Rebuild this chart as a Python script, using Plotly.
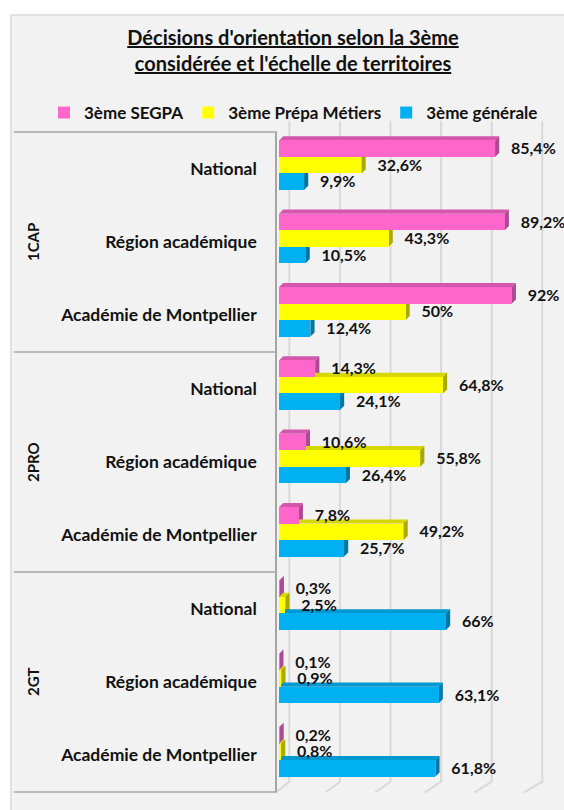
import plotly.graph_objects as go

# ---------------- data ----------------
groups = ["1CAP", "2PRO", "2GT"]
territories = ["National", "Région académique", "Académie de Montpellier"]
series_names = ["3ème SEGPA", "3ème Prépa Métiers", "3ème générale"]
segpa = [85.4, 89.2, 92, 14.3, 10.6, 7.8, 0.3, 0.1, 0.2]
prepa = [32.6, 43.3, 50, 64.8, 55.8, 49.2, 2.5, 0.9, 0.8]
generale = [9.9, 10.5, 12.4, 24.1, 26.4, 25.7, 66, 63.1, 61.8]
grid_values = [0, 20, 40, 60, 80, 100]

# ---------------- style ----------------
front_colors = ["#ff66cc", "#ffff00", "#00b0f0"]
top_colors = ["#d457ad", "#d6d600", "#0098d0"]
side_colors = ["#ae4894", "#a9a900", "#0078a5"]
FONT = "Lato"
TXT = "#111111"

W, H = 564, 810
L, R, T, B = 277, 4, 132, 18
plot_w = W - L - R
plot_h = H - T - B
PX_PER_UNIT = 2.53
X0_PX = 279
xr0 = -(X0_PX - L) / PX_PER_UNIT
xr1 = xr0 + plot_w / PX_PER_UNIT

n_rows = len(groups) * len(territories)
band_px = plot_h / n_rows


def yu(px):
    return px / band_px


def xu(px):
    return px / PX_PER_UNIT


def px_x_to_paper(px):
    return (px - L) / plot_w


def px_y_to_paper(py):
    return (H - B - py) / plot_h


bar_h = yu(16.5)
shift = yu(-3.5)
dxb, dyb = xu(4.2), yu(4.2)
lab_dx = xu(16)
lab_dy = yu(1.5)

def fmt(v):
    return f"{v:g}".replace(".", ",") + "%"

fig = go.Figure()
shapes = []

# chart background box
shapes.append(dict(type="rect", xref="paper", yref="paper",
                   x0=px_x_to_paper(11), x1=px_x_to_paper(570),
                   y0=px_y_to_paper(815), y1=px_y_to_paper(15),
                   fillcolor="#f2f2f2", line=dict(color="#d9d9d9", width=1.5),
                   layer="below"))

# back-wall gridlines with floor diagonal
for g in grid_values:
    xb = g + xu(10.3)
    xf = g * 0.981 - xu(3)
    path = (f"M{xb},{px_y_to_paper(120.7)} L{xb},{px_y_to_paper(781.7)} "
            f"L{xf},{px_y_to_paper(792.3)}")
    shapes.append(dict(type="path", xref="x", yref="paper", path=path,
                       line=dict(color="#d9d9d9", width=2), layer="below"))

# group dividers in label area
for k in range(len(groups) + 1):
    yy = 1 - k / len(groups)
    shapes.append(dict(type="line", xref="paper", yref="paper",
                       x0=px_x_to_paper(14), x1=0, y0=yy, y1=yy,
                       line=dict(color="#a6a6a6", width=1.5), layer="above"))

all_series = [segpa, prepa, generale]
for s, vals in enumerate(all_series):
    yc = [i + 0.5 + shift + (s - 1) * bar_h for i in range(n_rows)]
    fig.add_trace(go.Bar(
        x=vals, y=yc, orientation="h", width=bar_h, name=series_names[s],
        marker=dict(color=front_colors[s], line=dict(width=0)),
        hoverinfo="skip"))
    for v, c in zip(vals, yc):
        yt, yb = c - bar_h / 2, c + bar_h / 2
        shapes.append(dict(type="path", xref="x", yref="y", layer="below",
                           path=f"M0,{yt} L{v},{yt} L{v+dxb},{yt-dyb} L{dxb},{yt-dyb} Z",
                           fillcolor=top_colors[s], line=dict(width=0)))
        shapes.append(dict(type="path", xref="x", yref="y", layer="below",
                           path=f"M{v},{yt} L{v},{yb} L{v+dxb},{yb-dyb} L{v+dxb},{yt-dyb} Z",
                           fillcolor=side_colors[s], line=dict(width=0)))
    fig.add_trace(go.Scatter(
        x=[v + lab_dx for v in vals], y=[c + lab_dy for c in yc],
        mode="text", text=[fmt(v) for v in vals], textposition="middle right",
        textfont=dict(family=FONT, size=16, color=TXT, weight="bold"),
        cliponaxis=False, showlegend=False, hoverinfo="skip"))

annotations = []
for k, g in enumerate(groups):
    annotations.append(dict(text=f"<b>{g}</b>", xref="paper", yref="y",
                            x=px_x_to_paper(33), y=k * len(territories) + 1.5,
                            xanchor="center", yanchor="middle",
                            textangle=-90, showarrow=False,
                            font=dict(family=FONT, size=15, color=TXT)))

fig.update_layout(
    width=W, height=H,
    margin=dict(l=L, r=R, t=T, b=B),
    paper_bgcolor="white",
    plot_bgcolor="rgba(0,0,0,0)",
    title=dict(text="<u>Décisions d'orientation selon la 3ème</u><br>"
                    "<u>considérée et l'échelle de territoires</u>",
               x=293 / W, xref="container", xanchor="center",
               y=1 - 45 / H, yanchor="middle", yref="container",
               font=dict(family=FONT, size=20, color=TXT, weight="bold")),
    showlegend=True,
    legend=dict(orientation="h", x=px_x_to_paper(44), xanchor="left",
                y=px_y_to_paper(113), yanchor="middle",
                font=dict(family=FONT, size=17, color=TXT, weight="bold"),
                bgcolor="rgba(0,0,0,0)", traceorder="normal"),
    xaxis=dict(range=[xr0, xr1], showgrid=False, zeroline=False,
               showticklabels=False, showline=False, ticks=""),
    yaxis=dict(range=[n_rows, 0], showgrid=False, zeroline=False,
               tickmode="array",
               tickvals=[i + 0.5 for i in range(n_rows)],
               ticktext=territories * len(groups),
               ticks="", ticklabelstandoff=15,
               tickfont=dict(family=FONT, size=17.5, color=TXT, weight="bold"),
               showline=True, linecolor="#a6a6a6", linewidth=1.5),
    shapes=shapes,
    annotations=annotations,
    bargap=0,
)

fig.write_html("out.html",
               config={"displayModeBar": False},
               post_script="document.body.style.margin='0';"
                           "document.body.style.overflow='hidden';")
